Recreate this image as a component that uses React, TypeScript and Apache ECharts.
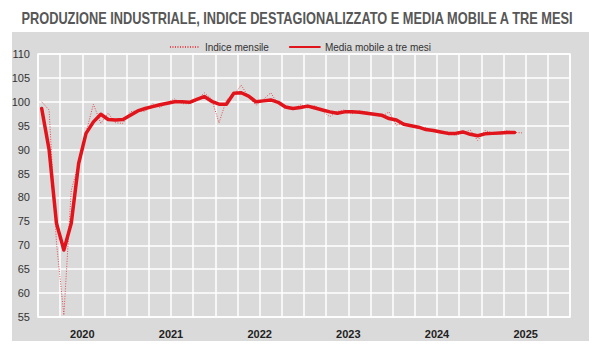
import React, { useEffect, useRef } from "react";
import * as echarts from "echarts";

const years = ["2020", "2021", "2022", "2023", "2024", "2025"];
const monthNames = ["gen", "feb", "mar", "apr", "mag", "giu", "lug", "ago", "set", "ott", "nov", "dic"];
const months = years.flatMap((y) => monthNames.map((m) => `${m} ${y}`));

const title = "PRODUZIONE INDUSTRIALE, INDICE DESTAGIONALIZZATO E MEDIA MOBILE A TRE MESI";

// Indice mensile (gen 2020 - giu 2025)
const indiceMensile = [
  100.0, 98.3, 70.5, 55.4, 81.5, 87.0, 93.6, 99.5, 95.5, 97.6, 95.6, 95.5,
  97.9, 98.2, 98.0, 99.6, 98.8, 99.8, 100.6, 99.6, 99.6, 100.3, 101.9, 100.6,
  95.6, 100.4, 101.4, 103.5, 101.0, 99.3, 100.5, 101.9, 99.5, 98.6, 98.4, 99.4,
  98.7, 99.2, 98.0, 96.9, 98.0, 98.3, 97.5, 98.1, 97.9, 97.3, 96.9, 97.9,
  95.1, 95.6, 95.1, 94.4, 94.6, 93.9, 93.7, 93.7, 93.0, 93.5, 94.1, 91.9,
  94.0, 93.5, 93.6, 94.0, 93.6, 93.5,
];

// Media mobile a tre mesi (centrata)
const mediaMobile = [
  98.6, 90.0, 74.6, 69.0, 74.6, 87.1, 93.4, 95.8, 97.4, 96.3, 96.2, 96.3,
  97.2, 98.1, 98.6, 99.0, 99.4, 99.7, 100.0, 100.0, 99.9, 100.5, 101.1, 100.1,
  99.5, 99.5, 101.8, 101.9, 101.2, 100.0, 100.2, 100.4, 99.9, 98.9, 98.6, 98.8,
  99.1, 98.7, 98.3, 97.9, 97.6, 97.9, 97.9, 97.8, 97.6, 97.4, 97.2, 96.5,
  96.2, 95.3, 95.0, 94.7, 94.2, 94.0, 93.7, 93.4, 93.4, 93.7, 93.2, 92.9,
  93.3, 93.4, 93.5, 93.6, 93.6,
];

const yMin = 55;
const yMax = 110;
const yStep = 5;

const FONT = "'Liberation Sans Narrow', 'Arial Narrow', 'Liberation Sans', Arial, sans-serif";
const RED = "#e1141c";

export default function App() {
  const ref = useRef<HTMLDivElement>(null);

  useEffect(() => {
    if (!ref.current) return;
    const chart = echarts.init(ref.current, undefined, { renderer: "svg" });
    chart.setOption({
      animation: false,
      backgroundColor: "transparent",
      graphic: [
        {
          type: "text",
          x: 297,
          y: 18,
          scaleX: 0.8,
          style: {
            x: 0,
            y: 0,
            text: title,
            fill: "#575757",
            font: `bold 16px ${FONT}`,
            textAlign: "center",
            textVerticalAlign: "middle",
          },
        },
      ],
      legend: {
        top: 37,
        left: "center",
        itemWidth: 30,
        itemHeight: 10,
        itemGap: 20,
        itemStyle: { opacity: 0 },
        textStyle: { fontFamily: FONT, fontSize: 10, color: "#333" },
        data: ["Indice mensile", "Media mobile a tre mesi"],
      },
      grid: {
        left: 38,
        right: 30,
        top: 54,
        bottom: 43,
        show: true,
        borderColor: "#ffffff",
        borderWidth: 1.5,
        backgroundColor: "transparent",
      },
      xAxis: [
        {
          type: "category",
          data: months,
          boundaryGap: true,
          axisLine: { show: false },
          axisTick: { show: false, interval: (i: number) => i % 3 === 0 },
          axisLabel: { show: false },
          splitLine: {
            show: true,
            interval: (i: number) => i % 3 === 0,
            lineStyle: { color: "#ffffff", width: 1.5 },
          },
        },
        {
          type: "category",
          data: years,
          position: "bottom",
          boundaryGap: true,
          axisLine: { show: false },
          axisTick: { show: false },
          splitLine: { show: false },
          axisLabel: {
            margin: 11,
            fontFamily: FONT,
            fontSize: 11,
            fontWeight: "bold",
            color: "#222",
          },
        },
      ],
      yAxis: {
        type: "value",
        min: yMin,
        max: yMax,
        interval: yStep,
        axisLine: { show: false },
        axisTick: { show: false },
        axisLabel: { fontFamily: FONT, fontSize: 11, color: "#333", margin: 8 },
        splitLine: { lineStyle: { color: "#ffffff", width: 1.5 } },
      },
      series: [
        {
          name: "Indice mensile",
          type: "line",
          xAxisIndex: 0,
          data: indiceMensile,
          symbol: "none",
          lineStyle: { type: [1, 1.5], width: 1, color: "#e34a50" },
          itemStyle: { color: "#e34a50" },
          z: 2,
        },
        {
          name: "Media mobile a tre mesi",
          type: "line",
          xAxisIndex: 0,
          data: mediaMobile,
          symbol: "none",
          lineStyle: { width: 3.5, color: RED, cap: "round", join: "round" },
          itemStyle: { color: RED },
          z: 3,
        },
      ],
    });
    return () => chart.dispose();
  }, []);

  return (
    <div style={{ position: "fixed", left: 0, top: 0, width: 600, height: 360, background: "#ffffff" }}>
      <div style={{ position: "absolute", left: 12, top: 32, width: 577, height: 309, background: "#dadada" }} />
      <div ref={ref} style={{ position: "absolute", left: 0, top: 0, width: 600, height: 360 }} />
    </div>
  );
}
